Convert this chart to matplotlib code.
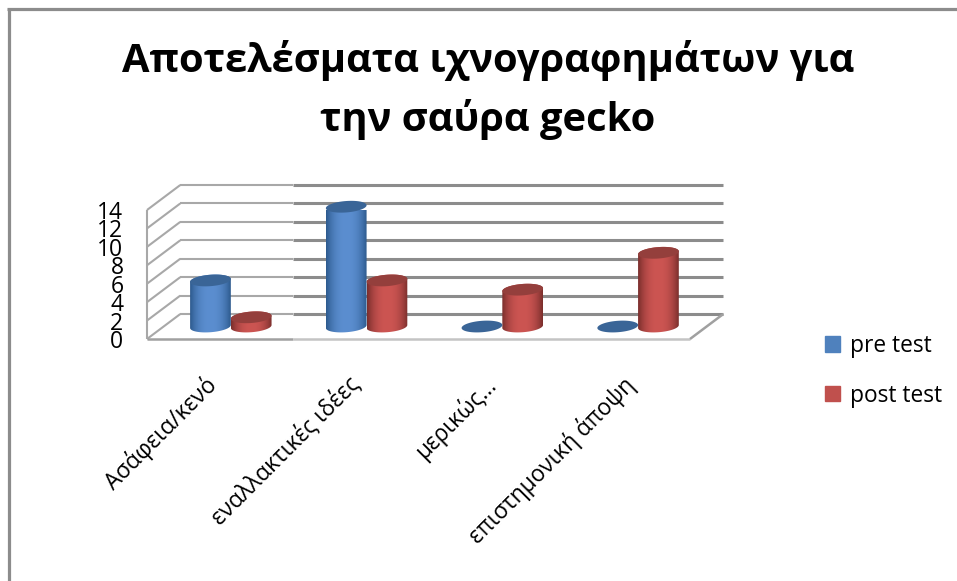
import matplotlib
matplotlib.use("Agg")
import matplotlib.pyplot as plt
import numpy as np
from matplotlib.lines import Line2D
from matplotlib.patches import PathPatch, Patch
from matplotlib.path import Path
from matplotlib.transforms import ScaledTranslation

plt.rcParams["font.family"] = ["Open Sans", "Noto Sans", "DejaVu Sans"]
plt.rcParams["lines.solid_capstyle"] = "butt"

TITLE = "Αποτελέσματα ιχνογραφημάτων για\nτην σαύρα gecko"
CATEGORIES = ["Ασάφεια/κενό", "εναλλακτικές ιδέες", "μερικώς...", "επιστημονική άποψη"]
PRE_TEST = [5, 13, 0, 0]
POST_TEST = [1, 5, 4, 8]
Y_TICKS = [0, 2, 4, 6, 8, 10, 12, 14]

# depth of the fake 3d box, in data units
DX = 0.245
DY = 2.71
BAR_W = 0.3
RY = 0.62
TILT = 0.16

W, H = 957, 581
GRID_DARK = "#8c8c8c"
GRID_LIGHT = "#a8a8a8"


def cylinder(ax, xc, base, height, edge, mid, top):
    rx = BAR_W / 2
    t = np.linspace(0, 2 * np.pi, 80)
    ex = xc + rx * np.cos(t)
    if height > 0:
        tb = np.linspace(np.pi, 2 * np.pi, 40)
        xs = xc + rx * np.cos(tb)
        low = base + RY * np.sin(tb) + TILT * np.cos(tb)
        tt = np.linspace(0, np.pi, 40)
        xt = xc + rx * np.cos(tt)
        up = base + height + RY * np.sin(tt) + TILT * np.cos(tt)
        verts = np.column_stack([np.r_[xs, xt], np.r_[low, up]])
        clip = PathPatch(Path(np.vstack([verts, verts[0]]), closed=True), fc="none", ec="none", transform=ax.transData)
        ax.add_patch(clip)
        grad = np.abs(np.linspace(-1, 1, 64)) ** 2.4
        c0, c1 = np.array(matplotlib.colors.to_rgb(mid)), np.array(matplotlib.colors.to_rgb(edge))
        img = (c0[None, :] * (1 - grad[:, None]) + c1[None, :] * grad[:, None])[None, :, :]
        im = ax.imshow(img, extent=[xc - rx, xc + rx, base - RY - TILT, base + height + RY + TILT],
                       aspect="auto", zorder=4, interpolation="bilinear")
        im.set_clip_box(None)
        im.set_clip_path(clip)
    ey = base + height + RY * np.sin(t) + TILT * np.cos(t)
    ax.fill(ex, ey, color=top, zorder=5, clip_on=False, lw=0)


fig = plt.figure(figsize=(W / 100, H / 100), dpi=100)
ax = fig.add_axes([147 / W, 1 - 339 / H, 543 / W, 129 / H])

# outer frame, only top and left show
fig.add_artist(Line2D([7 / W, 1], [1 - 9 / H, 1 - 9 / H], color=GRID_DARK, lw=2.3))
fig.add_artist(Line2D([8.5 / W, 8.5 / W], [0, 1 - 8 / H], color=GRID_DARK, lw=2.3))

# walls and gridlines
for v in Y_TICKS:
    ax.plot([0, DX], [v, v + DY], color=GRID_LIGHT, lw=1.5, clip_on=False, zorder=1)
    ax.plot([DX, 1.075], [v + DY, v + DY], color=GRID_LIGHT, lw=1.5, clip_on=False, zorder=1)
    ax.plot([1.075, 4 + DX], [v + DY, v + DY], color=GRID_DARK, lw=2.2, clip_on=False, zorder=1)
ax.plot([0, 0], [0, 14], color=GRID_LIGHT, lw=1.5, clip_on=False, zorder=1)
ax.plot([0, 1.075], [0, 0], color="#a0a0a0", lw=1.8, clip_on=False, zorder=1)
ax.plot([1.075, 4], [0, 0], color="#c4c4c4", lw=1.8, clip_on=False, zorder=1)
ax.plot([4, 4 + DX], [0, DY], color="#a0a0a0", lw=1.8, clip_on=False, zorder=1)

for i in range(len(CATEGORIES)):
    xc = i + 0.495 + DX / 2
    cylinder(ax, xc - BAR_W / 2, DY / 2, PRE_TEST[i], "#2d5a8e", "#5b8ed0", "#3a6597")
    cylinder(ax, xc + BAR_W / 2, DY / 2, POST_TEST[i], "#7a2e2c", "#cc5552", "#943f3c")

ax.set_xlim(0, 4)
ax.set_ylim(0, 14)
ax.set_xticks(np.arange(len(CATEGORIES)) + 0.5)
ax.set_xticklabels(CATEGORIES, rotation=45, ha="right", va="top", rotation_mode="anchor", fontsize=16.3)
ax.set_yticks(Y_TICKS)
ax.tick_params(axis="y", length=0, labelsize=16.5, pad=17)
ax.tick_params(axis="x", length=0, pad=24)
for s in ax.spines.values():
    s.set_visible(False)
ax.patch.set_visible(False)

# nudge the rotated labels sideways a little, in pixels
for lab, dx in zip(ax.get_xticklabels(), [-11, -3, -3, 0]):
    lab.set_transform(lab.get_transform() + ScaledTranslation(dx / 100, 0, fig.dpi_scale_trans))

handles = [Patch(color="#4f81bd", label="pre test"), Patch(color="#c0504d", label="post test")]
fig.legend(handles=handles, loc="upper left", bbox_to_anchor=(825 / W, 1 - 334 / H), frameon=False,
           fontsize=16.4, handlelength=0.66, handleheight=0.66, handletextpad=0.45, labelspacing=1.12,
           borderpad=0, borderaxespad=0)

fig.text(488 / W, 1 - 90 / H, TITLE, ha="center", va="center", fontsize=28.7, fontweight="bold", linespacing=1.55)

fig.savefig("out.png", dpi=100)
